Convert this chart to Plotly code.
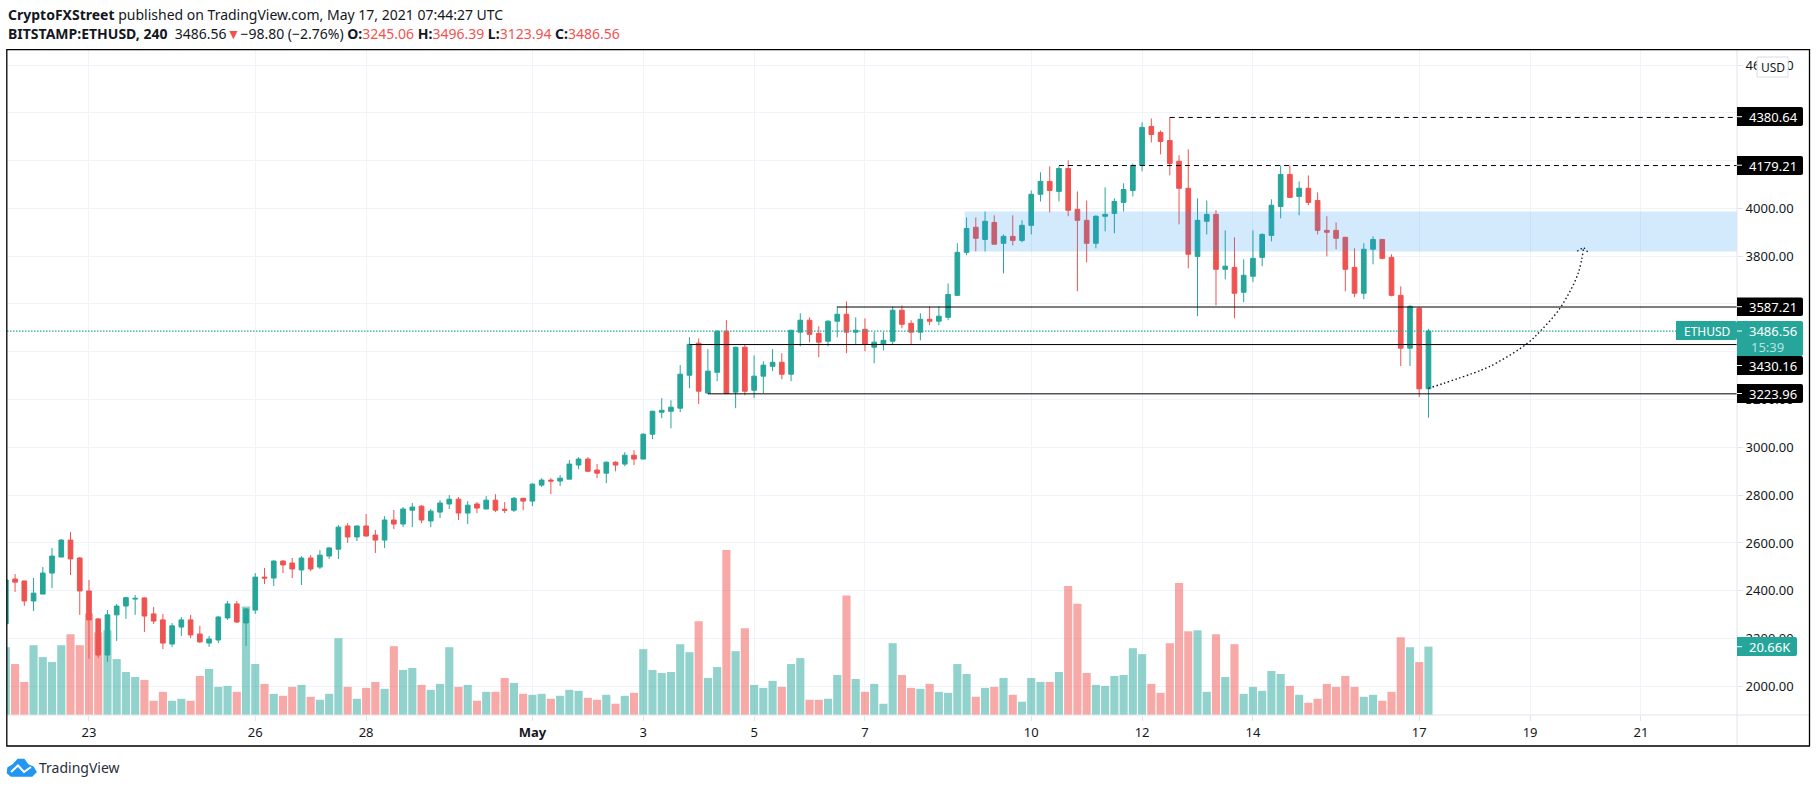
import pandas as pd
import plotly.graph_objects as go

W, H = 1817, 788

# 4h candles
opens = [2262,2449,2441,2357,2386,2474,2541,2612,2537,2399,
         2282,2131,2299,2336,2365,2370,2303,2278,2177,2248,
         2278,2219,2181,2194,2286,2345,2265,2319,2457,2453,
         2524,2516,2487,2537,2499,2545,2574,2671,2625,2671,
         2633,2612,2696,2679,2737,2754,2692,2729,2763,2783,
         2725,2763,2742,2779,2741,2737,2787,2775,2842,2863,
         2859,2867,2926,2951,2905,2892,2938,2930,2967,2951,
         3055,3147,3151,3164,3302,3436,3227,3314,3486,3231,
         3419,3239,3298,3339,3356,3306,3482,3532,3477,3444,
         3528,3557,3482,3494,3419,3431,3444,3574,3519,3482,
         3536,3528,3544,3636,3816,3921,3870,3941,3854,3883,
         3866,3929,4059,4113,4071,4167,3996,3950,3854,3967,
         3979,4025,4075,4180,4343,4318,4284,4197,4084,3799,
         3946,3975,3745,3753,3649,3716,3795,3887,4008,4142,
         4050,4084,4033,3908,3908,3879,3753,3645,3829,3870,
         3795,3636,3415,3582,3245.06]
highs = [2450,2470,2441,2453,2499,2579,2616,2646,2541,2445,
         2286,2319,2345,2374,2382,2372,2332,2303,2265,2290,
         2299,2253,2211,2294,2357,2357,2326,2474,2495,2528,
         2528,2537,2545,2549,2570,2583,2675,2683,2673,2721,
         2654,2712,2738,2750,2767,2758,2742,2779,2800,2792,
         2775,2771,2796,2804,2771,2792,2789,2850,2871,2871,
         2884,2947,2959,2959,2930,2940,2942,2980,2988,3059,
         3153,3206,3197,3344,3461,3456,3411,3490,3532,3421,
         3431,3385,3360,3411,3394,3492,3561,3544,3507,3532,
         3590,3611,3544,3540,3482,3482,3590,3594,3532,3561,
         3590,3590,3686,3854,3962,3962,3987,3971,3891,3971,
         3950,4075,4151,4176,4176,4201,4071,4033,3971,4088,
         4042,4105,4188,4360,4376,4326,4381,4222,4247,4042,
         4033,3992,3908,3879,3787,3908,3896,4038,4180,4180,
         4113,4138,4067,3967,3941,3881,3833,3854,3883,3872,
         3808,3674,3595,3586,3496.39]
lows = [2255,2395,2336,2315,2386,2411,2541,2466,2299,2115,
        2119,2102,2190,2282,2299,2227,2261,2156,2165,2211,
        2202,2181,2165,2181,2278,2265,2169,2303,2428,2420,
        2474,2453,2424,2482,2491,2533,2533,2600,2608,2627,
        2558,2579,2658,2666,2666,2683,2666,2704,2742,2696,
        2679,2725,2742,2729,2725,2729,2737,2754,2834,2804,
        2838,2867,2909,2896,2871,2850,2900,2921,2926,2951,
        3034,3122,3080,3147,3247,3181,3225,3277,3224,3164,
        3218,3206,3227,3319,3285,3277,3423,3440,3377,3423,
        3461,3394,3431,3402,3352,3406,3431,3498,3431,3448,
        3511,3511,3532,3634,3804,3820,3820,3848,3728,3845,
        3858,3891,4029,3983,4029,3967,3653,3774,3833,3904,
        3896,3987,4050,4155,4276,4226,4138,3933,3749,3549,
        3891,3594,3703,3540,3607,3691,3758,3862,3958,4044,
        3971,4013,3891,3799,3829,3653,3628,3620,3766,3787,
        3632,3340,3340,3210,3123.94]
closes = [2445,2436,2357,2390,2474,2545,2612,2533,2399,2278,
          2131,2299,2336,2371,2368,2294,2273,2181,2253,2278,
          2215,2186,2198,2290,2345,2269,2324,2457,2453,2524,
          2508,2491,2537,2491,2549,2579,2666,2625,2671,2629,
          2612,2696,2679,2742,2750,2696,2733,2767,2783,2725,
          2758,2746,2779,2737,2737,2787,2775,2846,2863,2859,
          2871,2930,2951,2900,2892,2938,2926,2967,2951,3055,
          3151,3155,3168,3306,3431,3235,3319,3486,3225,3419,
          3235,3298,3344,3356,3306,3490,3532,3473,3440,3528,
          3557,3482,3490,3431,3440,3448,3574,3515,3482,3536,
          3528,3549,3640,3816,3916,3875,3946,3850,3883,3866,
          3929,4059,4113,4075,4167,3992,3950,3854,3967,3975,
          4029,4079,4180,4339,4309,4280,4188,4084,3808,3950,
          3975,3745,3758,3645,3720,3791,3891,4013,4142,4046,
          4084,4025,3908,3900,3875,3745,3645,3829,3870,3791,
          3636,3415,3590,3245,3486.56]
volumes = [20.5,15.4,10,21.1,17.5,16,21.1,24.4,21.1,30.7,
           25,25.6,16.9,13,11.5,10.6,4.3,7,4.3,4.9,
           4.3,11.8,13.9,8.5,8.8,7,32.8,15.4,9.4,6.4,
           5.8,8.5,9.1,5.5,4.6,6.4,23.2,8.5,4.9,8.2,
           10,7.9,20.8,13.6,14.2,9.1,7.6,9.4,20.5,8.5,
           9.1,4.3,7,7,11.2,9.7,6.4,6.1,6.4,4.9,
           5.8,7.6,7.3,5.2,4.6,6.1,3.4,5.8,6.7,19.9,
           13.6,12.7,13,21.4,19,28.3,11.2,14.5,49.9,19.3,
           26.2,9.1,8.2,10.3,8.5,15.4,17.2,4.6,4.6,4.9,
           12.1,36.1,10.9,7,9.4,3.4,21.7,12.1,8.2,7.9,
           9.4,7,6.7,15.4,12.4,5.5,8.2,8.5,11.2,6.1,
           4,11.2,10,10,13,39,33.6,12.7,9.1,8.8,
           11.8,12.1,20.2,18.4,9.4,6.7,21.7,39.9,25.3,25.6,
           7,24.4,11.5,21.4,6.4,8.5,7.3,13.3,12.4,8.8,
           6.1,3.7,4.9,9.4,8.5,11.8,8.5,5.5,6.1,4.3,
           7,23.5,20.5,16,20.66]
dates = pd.date_range("2021-04-21 12:00", periods=len(opens), freq="4h")

x_ticks = ["2021-04-23", "2021-04-26", "2021-04-28", "2021-05-01", "2021-05-03", "2021-05-05",
           "2021-05-07", "2021-05-10", "2021-05-12", "2021-05-14", "2021-05-17", "2021-05-19", "2021-05-21"]
x_labels = ["23", "26", "28", "<b>May</b>", "3", "5", "7", "10", "12", "14", "17", "19", "21"]
price_ticks = [2000, 2200, 2400, 2600, 2800, 3000, 3200, 3400, 3600, 3800, 4000, 4200, 4400, 4600]

# horizontal levels drawn on the chart
level_prices = [4380.64, 4179.21, 3587.21, 3430.16, 3223.96]
level_starts = ["2021-05-12 12:00", "2021-05-10 12:00", "2021-05-06 12:00", "2021-05-03 20:00", "2021-05-04 04:00"]
level_dashes = ["5px,4px", "5px,4px", "solid", "solid", "solid"]

# projected path, dotted arrow
path_x = ["2021-05-17 04:00", "2021-05-18 02:48", "2021-05-18 10:00", "2021-05-18 22:48",
          "2021-05-19 04:48", "2021-05-19 13:12", "2021-05-19 20:48", "2021-05-19 23:12"]
path_y = [3247, 3323, 3356, 3435, 3490, 3586, 3728, 3837]
head_x = ["2021-05-19 20:24", "2021-05-19 23:12", "2021-05-20 01:12"]
head_y = [3821, 3837, 3815]

x_range = ["2021-04-21 12:30", "2021-05-22 17:36"]
green, red = "#26a69a", "#ef5350"
text_col = "#131722"
font_name = "Noto Sans"

vol_colors = ["rgba(38,166,154,0.5)" if c >= o else "rgba(239,83,80,0.5)" for o, c in zip(opens, closes)]


def fx(px):
    return px / W


def fy(py):
    return 1 - py / H


fig = go.Figure()

fig.add_trace(go.Bar(x=dates, y=volumes, marker_color=vol_colors, marker_line_width=0, yaxis="y"))
fig.add_trace(go.Candlestick(
    x=dates, open=opens, high=highs, low=lows, close=closes, yaxis="y2", whiskerwidth=0,
    increasing=dict(line=dict(color=green, width=1), fillcolor=green),
    decreasing=dict(line=dict(color=red, width=1), fillcolor=red),
))
fig.add_trace(go.Scatter(x=path_x, y=path_y, mode="lines", yaxis="y2",
                         line=dict(color="#131722", width=1.4, dash="1.5px,2.5px", shape="spline")))
fig.add_trace(go.Scatter(x=head_x, y=head_y, mode="lines", yaxis="y2",
                         line=dict(color="#131722", width=1.4, dash="1.5px,2.5px")))

shapes = []
# blue zone
shapes.append(dict(type="rect", xref="x", yref="y2", x0="2021-05-08 19:12", x1=x_range[1], y0=3820, y1=3987,
                   fillcolor="rgba(33,150,243,0.2)", line_width=0, layer="above"))
shapes.append(dict(type="line", xref="x", yref="y2", x0=x_range[0], x1=x_range[1], y0=closes[-1], y1=closes[-1],
                   line=dict(color=green, width=1.2, dash="1.5px,1.5px")))
for price, start, dash in zip(level_prices, level_starts, level_dashes):
    shapes.append(dict(type="line", xref="x", yref="y2", x0=start, x1=x_range[1], y0=price, y1=price,
                       line=dict(color="#000000", width=1, dash=dash)))

# axis borders and outer frame
shapes.append(dict(type="line", xref="paper", yref="paper", x0=fx(1737), x1=fx(1737), y0=fy(50), y1=fy(746),
                   line=dict(color="#e0e3eb", width=1)))
shapes.append(dict(type="line", xref="paper", yref="paper", x0=fx(7), x1=fx(1809), y0=fy(715), y1=fy(715),
                   line=dict(color="#e0e3eb", width=1)))
shapes.append(dict(type="rect", xref="paper", yref="paper", x0=fx(6.8), x1=fx(1809.5), y0=fy(746), y1=fy(49.6),
                   line=dict(color="#000000", width=1.3)))


def tag(x0, x1, y0, y1, color, r=2):
    p = (f"M {fx(x0)} {fy(y0)} L {fx(x1 - r)} {fy(y0)} Q {fx(x1)} {fy(y0)} {fx(x1)} {fy(y0 + r)} "
         f"L {fx(x1)} {fy(y1 - r)} Q {fx(x1)} {fy(y1)} {fx(x1 - r)} {fy(y1)} L {fx(x0)} {fy(y1)} Z")
    return dict(type="path", xref="paper", yref="paper", path=p, fillcolor=color, line_width=0)


def tick_mark(y):
    return dict(type="line", xref="paper", yref="paper", x0=fx(1737), x1=fx(1742), y0=fy(y), y1=fy(y),
                line=dict(color="#ffffff", width=1))


# price tags
shapes.append(tag(1676, 1737, 321, 340, green))
shapes.append(tag(1737, 1803, 321, 356, green))
label_boxes = [(107, 126, 116.7), (156, 175, 165.2), (297.5, 316, 306.7), (356, 375, 365.5), (384, 403, 393.5)]
for y0, y1, ym in label_boxes:
    shapes.append(tag(1737, 1803, y0, y1, "#000000"))
    shapes.append(tick_mark(ym))
shapes.append(tick_mark(331))
shapes.append(tag(1737, 1797, 637, 656, green))
shapes.append(tick_mark(646.7))
# USD button
shapes.append(dict(type="rect", xref="paper", yref="paper", x0=fx(1757), x1=fx(1788), y0=fy(77), y1=fy(57),
                   fillcolor="#ffffff", line=dict(color="#d9dce6", width=1)))

# TradingView logo
cloud = [(11, 776), (7.5, 773), (8, 768), (13, 765), (18, 759.5), (24, 759.5), (28, 765), (33, 767), (36, 772), (32, 776)]
cloud_path = f"M {fx(cloud[0][0])} {fy(cloud[0][1])} " + " ".join(f"L {fx(a)} {fy(b)}" for a, b in cloud[1:]) + " Z"
shapes.append(dict(type="path", xref="paper", yref="paper", path=cloud_path, fillcolor="#2196f3",
                   line=dict(color="#2196f3", width=1.5)))
zig = [(11, 772), (18, 765.5), (24, 772), (31, 767)]
zig_path = f"M {fx(zig[0][0])} {fy(zig[0][1])} " + " ".join(f"L {fx(a)} {fy(b)}" for a, b in zig[1:])
shapes.append(dict(type="path", xref="paper", yref="paper", path=zig_path, line=dict(color="#ffffff", width=2)))


def note(x, y, text, size=13, color=text_col, anchor="left"):
    return dict(xref="paper", yref="paper", x=fx(x), y=fy(y), text=text, showarrow=False, xanchor=anchor,
                yanchor="middle", align="left", font=dict(family=font_name, size=size, color=color),
                borderpad=0)


def red_span(s):
    return f'<span style="color:{red}">{s}</span>'


annotations = [
    note(7, 14.5, "<b>CryptoFXStreet</b> published on TradingView.com, May 17, 2021 07:44:27 UTC", size=14),
    note(7, 33.5, "<b>BITSTAMP:ETHUSD, 240</b>  3486.56" + red_span("▼") + "−98.80 (−2.76%) <b>O:</b>" + red_span("3245.06")
         + " <b>H:</b>" + red_span("3496.39") + " <b>L:</b>" + red_span("3123.94") + " <b>C:</b>" + red_span("3486.56"), size=14),
    note(1748, 117, "4380.64", color="#ffffff"),
    note(1748, 165.5, "4179.21", color="#ffffff"),
    note(1748, 307, "3587.21", color="#ffffff"),
    note(1748, 331, "3486.56", color="#ffffff"),
    note(1750, 347, "15:39", color="#b8e3df"),
    note(1748, 366, "3430.16", color="#ffffff"),
    note(1748, 394, "3223.96", color="#ffffff"),
    note(1748, 647, "20.66K", color="#ffffff"),
    note(1682.5, 331, "ETHUSD", size=12, color="#ffffff"),
    note(1772.5, 67, "USD", size=12, anchor="center"),
    note(37.5, 767, "TradingView", size=14, color="#2a2e39"),
]

fig.update_layout(
    width=W, height=H, margin=dict(l=0, r=0, t=0, b=0),
    paper_bgcolor="#ffffff", plot_bgcolor="#ffffff", showlegend=False,
    boxgap=0.28, bargap=0.12,
    font=dict(family=font_name, size=13, color=text_col),
    xaxis=dict(domain=[fx(7), fx(1737)], range=x_range, type="date", rangeslider_visible=False,
               tickmode="array", tickvals=x_ticks, ticktext=x_labels, ticks="outside", ticklen=5,
               tickcolor="#e0e3eb", showgrid=True, gridcolor="#f0f3fa", gridwidth=1, zeroline=False, showline=False),
    yaxis=dict(domain=[fy(715), fy(50)], range=[0, 201], visible=False, showgrid=False, zeroline=False),
    yaxis2=dict(domain=[fy(715), fy(50)], overlaying="y", side="right", anchor="x", range=[1880, 4662.8],
                tickmode="array", tickvals=price_ticks, tickformat=".2f", ticks="outside", ticklen=5,
                tickcolor="#e0e3eb", showgrid=True, gridcolor="#f0f3fa", gridwidth=1, zeroline=False, showline=False),
    shapes=shapes,
    annotations=annotations,
)

fig.write_html("out.html", config=dict(displayModeBar=False), post_script="document.body.style.margin='0';")
